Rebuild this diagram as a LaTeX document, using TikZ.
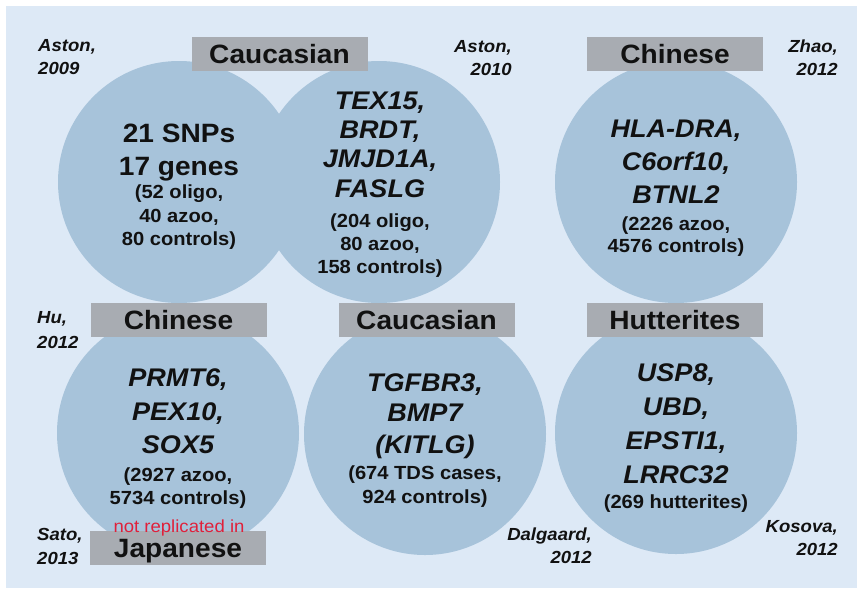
\documentclass[tikz,border=0pt]{standalone}
\usepackage{fontspec}
\setmainfont[FakeStretch=1.06]{Liberation Sans}
\definecolor{bgblue}{HTML}{DDE9F6}
\definecolor{circblue}{HTML}{A7C3DA}
\definecolor{boxgray}{HTML}{A8ACB2}
\definecolor{redtxt}{HTML}{E0203A}
\definecolor{txt}{HTML}{111111}
\newcommand\tline[5]{\node[#4] (#1) at (#2,#3) {#5};}
\begin{document}
\begin{tikzpicture}[x=1pt,y=-1pt,
  circ/.style={circle,fill=circblue,minimum size=242pt,inner sep=0pt},
  lab/.style={fill=boxgray,minimum width=176pt,minimum height=34pt,inner sep=0pt,
    text height=19pt,text depth=0pt,text=txt,font=\fontsize{26.5}{30}\selectfont\bfseries},
  big/.style={anchor=base,inner sep=0pt,text=txt,font=\fontsize{26.5}{30}\selectfont\bfseries},
  gene/.style={anchor=base,inner sep=0pt,text=txt,font=\fontsize{25.5}{30}\selectfont\bfseries\itshape},
  small/.style={anchor=base,inner sep=0pt,text=txt,font=\fontsize{19}{22}\selectfont\bfseries},
  authL/.style={anchor=base west,inner sep=0pt,text=txt,font=\fontsize{17.5}{21}\selectfont\bfseries\itshape},
  authR/.style={anchor=base east,inner sep=0pt,text=txt,font=\fontsize{17.5}{21}\selectfont\bfseries\itshape},
  red/.style={anchor=base,inner sep=0pt,text=redtxt,font=\fontsize{17.5}{21}\selectfont}]
\useasboundingbox (0,0) rectangle (857,590);
\fill[white] (0,0) rectangle (857,590);
\fill[bgblue] (6,6) rectangle (857,588);
% circles
\node[circ] (c1) at (179,182) {};
\node[circ] (c2) at (379,182) {};
\node[circ] (c3) at (676,182) {};
\node[circ] (c4) at (178,433) {};
\node[circ] (c5) at (425,434) {};
\node[circ] (c6) at (676,433) {};
% labels
\node[lab] (l1) at (279.5,53.5) {Caucasian};
\node[lab] (l2) at (675,53.5) {Chinese};
\node[lab] (l3) at (178.5,320) {Chinese};
\node[lab] (l4) at (426.5,320) {Caucasian};
\node[lab] (l5) at (675,320) {Hutterites};
\node[lab] (l6) at (178,547.5) {Japanese};
\tline{rep}{179}{532}{red}{not replicated in}
% circle 1
\tline{c1a}{179}{142}{big}{21 SNPs}
\tline{c1b}{179}{175}{big}{17 genes}
\tline{c1c}{179}{198}{small}{(52 oligo,}
\tline{c1d}{179}{222}{small}{40 azoo,}
\tline{c1e}{179}{245}{small}{80 controls)}
% circle 2
\tline{c2a}{380}{109}{gene}{TEX15,}
\tline{c2b}{380}{138}{gene}{BRDT,}
\tline{c2c}{380}{167}{gene}{JMJD1A,}
\tline{c2d}{380}{197}{gene}{FASLG}
\tline{c2e}{380}{227}{small}{(204 oligo,}
\tline{c2f}{380}{250}{small}{80 azoo,}
\tline{c2g}{380}{273}{small}{158 controls)}
% circle 3
\tline{c3a}{676}{137}{gene}{HLA-DRA,}
\tline{c3b}{676}{170}{gene}{C6orf10,}
\tline{c3c}{676}{203}{gene}{BTNL2}
\tline{c3d}{676}{230}{small}{(2226 azoo,}
\tline{c3e}{676}{252}{small}{4576 controls)}
% circle 4
\tline{c4a}{178}{386}{gene}{PRMT6,}
\tline{c4b}{178}{420}{gene}{PEX10,}
\tline{c4c}{178}{453}{gene}{SOX5}
\tline{c4d}{178}{481}{small}{(2927 azoo,}
\tline{c4e}{178}{504}{small}{5734 controls)}
% circle 5
\tline{c5a}{425}{391}{gene}{TGFBR3,}
\tline{c5b}{425}{421}{gene}{BMP7}
\tline{c5c}{425}{453}{gene}{(KITLG)}
\tline{c5d}{425}{479}{small}{(674 TDS cases,}
\tline{c5e}{425}{503}{small}{924 controls)}
% circle 6
\tline{c6a}{676}{381}{gene}{USP8,}
\tline{c6b}{676}{415}{gene}{UBD,}
\tline{c6c}{676}{449}{gene}{EPSTI1,}
\tline{c6d}{676}{483}{gene}{LRRC32}
\tline{c6e}{676}{508}{small}{(269 hutterites)}
% authors
\tline{a1a}{38}{51}{authL}{Aston,}
\tline{a1b}{38}{74}{authL}{2009}
\tline{a2a}{512}{52}{authR}{Aston,}
\tline{a2b}{512}{75}{authR}{2010}
\tline{a3a}{838}{52}{authR}{Zhao,}
\tline{a3b}{838}{75}{authR}{2012}
\tline{a4a}{37}{323}{authL}{Hu,}
\tline{a4b}{37}{348}{authL}{2012}
\tline{a5a}{37}{540}{authL}{Sato,}
\tline{a5b}{37}{564}{authL}{2013}
\tline{a6a}{592}{540}{authR}{Dalgaard,}
\tline{a6b}{592}{563}{authR}{2012}
\tline{a7a}{838}{532}{authR}{Kosova,}
\tline{a7b}{838}{555}{authR}{2012}
\end{tikzpicture}
\end{document}
